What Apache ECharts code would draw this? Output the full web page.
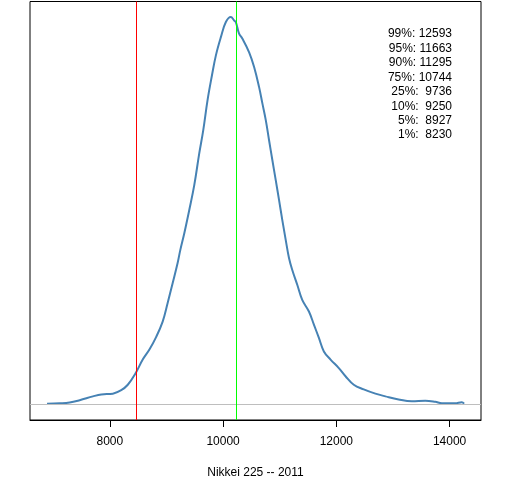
<!DOCTYPE html>
<html><head><meta charset="utf-8">
<script src="https://cdn.jsdelivr.net/npm/echarts@6/dist/echarts.min.js"></script>
<style>html,body{margin:0;padding:0;background:#fff}#c{width:512px;height:480px}</style>
</head><body><div id="c"></div>
<script>
var xs = [6891,7114,7290,7467,7701,7849,8053,8201,8317,8452,8581,8699,8817,8933,9021,9109,9197,9245,9315,9403,9491,9579,9650,9725,9803,9873,9961,10049,10137,10195,10225,10283,10342,10460,10548,10636,10694,10754,10812,10870,10930,10988,11046,11106,11164,11222,11310,11398,11516,11604,11692,11780,11898,12044,12162,12308,12484,12690,12866,13100,13335,13571,13747,13863,14099,14215,14257];
var density = [0.002,0.003,0.005,0.011,0.021,0.026,0.028,0.037,0.051,0.080,0.116,0.142,0.174,0.214,0.262,0.313,0.365,0.399,0.442,0.502,0.566,0.648,0.708,0.785,0.849,0.901,0.948,0.987,1.0,0.991,0.987,0.957,0.944,0.909,0.871,0.819,0.777,0.734,0.682,0.631,0.579,0.528,0.476,0.425,0.378,0.347,0.309,0.270,0.240,0.206,0.172,0.137,0.116,0.094,0.073,0.051,0.039,0.028,0.021,0.013,0.0085,0.010,0.007,0.003,0.003,0.006,0.002];
var tickLabels = [8000,10000,12000,14000];
var quantileNames = ['99%','95%','90%','75%','25%','10%','5%','1%'];
var quantileValues = [12593,11663,11295,10744,9736,9250,8927,8230];
var redLine = 8458;
var greenLine = 10224;
var xTitle = 'Nikkei 225 -- 2011';

var pts = xs.map(function(x,i){return [x,density[i]];});
var FONT = 'Liberation Sans, Arial, sans-serif';
var qGraphics = quantileNames.map(function(n,i){
  var v = String(quantileValues[i]);
  while (v.length < 5) v = ' ' + v;
  return {type:'text', x:452, y:34 + i*14.45,
    style:{text:n + ': ' + v, fill:'#000', font:'12px "Liberation Sans", Arial, sans-serif', align:'right', verticalAlign:'middle'}};
});

var chart = echarts.init(document.getElementById('c'), null, {renderer:'canvas'});
chart.setOption({
  animation:false,
  textStyle:{fontFamily:FONT},
  grid:{left:30,right:31,top:1.5,bottom:60,outerBoundsMode:'none',containLabel:false,show:true,borderColor:'#000',borderWidth:1,backgroundColor:'transparent'},
  xAxis:{type:'value',min:6590,max:14555,
    name:xTitle,nameLocation:'middle',nameGap:47,
    nameTextStyle:{fontSize:12,color:'#000',fontFamily:FONT},
    axisLine:{show:true,onZero:false,lineStyle:{color:'#000',width:1}},
    axisTick:{show:true,length:7,lineStyle:{color:'#000'},customValues:tickLabels},
    axisLabel:{color:'#000',fontSize:12,margin:16,customValues:tickLabels,fontFamily:FONT,
      formatter:function(v){return String(v);}},
    splitLine:{show:false}},
  yAxis:{type:'value',min:-0.04,max:1.04,show:false,splitLine:{show:false}},
  series:[{type:'line',data:pts,showSymbol:false,smooth:0.4,
    lineStyle:{color:'#4682B4',width:2},
    markLine:{silent:true,symbol:'none',label:{show:false},
      data:[
        {yAxis:0,lineStyle:{color:'#BEBEBE',width:1,type:'solid'}},
        {xAxis:redLine,lineStyle:{color:'#FF0000',width:1,type:'solid'}},
        {xAxis:greenLine,lineStyle:{color:'#00FF00',width:1,type:'solid'}}
      ]},
    z:3}],
  graphic:qGraphics
});
</script></body></html>
